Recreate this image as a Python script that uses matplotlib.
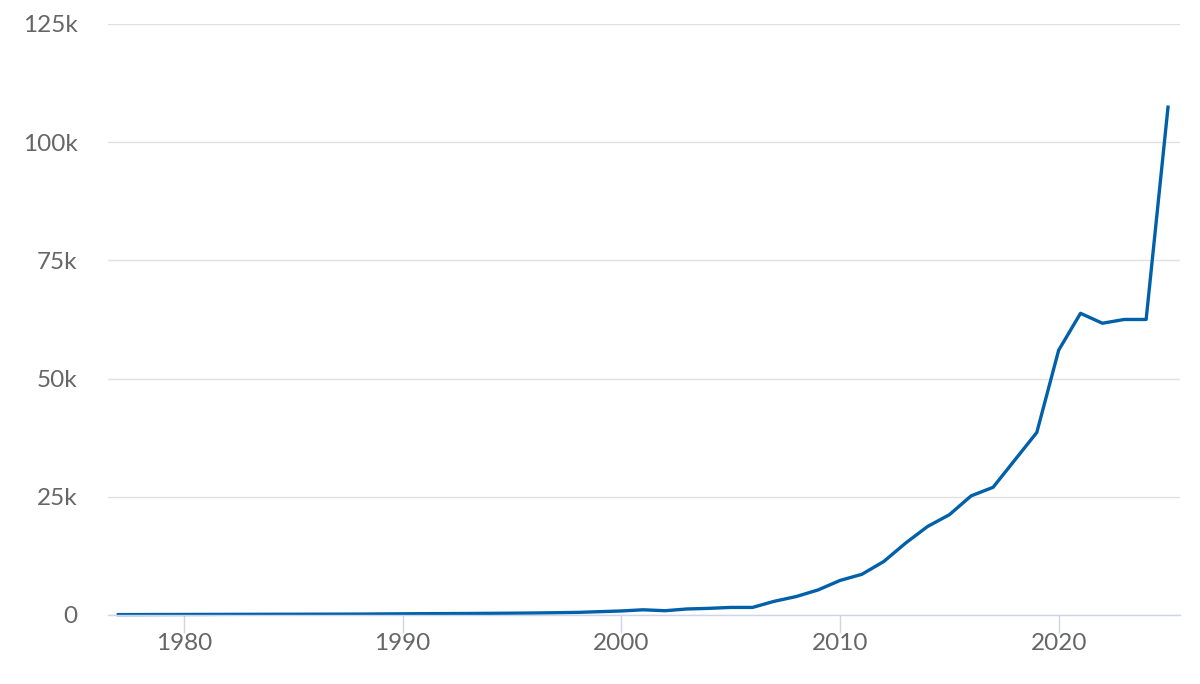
import matplotlib
matplotlib.use('Agg')
import matplotlib.pyplot as plt
from matplotlib.ticker import FuncFormatter

plt.rcParams['font.family'] = ['Lato', 'DejaVu Sans']

# yearly values
years = list(range(1977, 2026))
values = [80, 90, 100, 110, 120, 130, 140, 150, 160, 170, 180, 190, 220, 250, 280, 300, 320, 350, 380, 420, 480, 550, 700,
          850, 1100, 900, 1270, 1400, 1600, 1600, 2900, 3900, 5300,
          7300, 8600, 11300, 15200, 18700, 21200, 25200, 27000, 32800, 38600,
          56000, 63800, 61700, 62500, 62500, 107400]

fig = plt.figure(figsize=(12, 6.84), dpi=100)
ax = fig.add_axes([0.09, 0.1009, 0.893, 0.8641])

ax.plot(years, values, color='#0061aa', linewidth=2.4, solid_joinstyle='round', clip_on=False)

ax.set_xlim(1976.53, 2025.53)
ax.set_ylim(0, 125000)
ax.set_xticks([1980, 1990, 2000, 2010, 2020])
ax.set_yticks([0, 25000, 50000, 75000, 100000, 125000])
ax.yaxis.set_major_formatter(FuncFormatter(lambda v, p: '0' if v == 0 else f'{int(v/1000)}k'))

ax.grid(axis='y', color='#e0e0e0', linewidth=1)
ax.set_axisbelow(True)
for s in ['top', 'right', 'left']:
    ax.spines[s].set_visible(False)
ax.spines['bottom'].set_color('#ccd6eb')
ax.spines['bottom'].set_linewidth(1)

ax.tick_params(axis='x', colors='#ccd6eb', length=13, width=1, labelcolor='#666666', labelsize=17.5, pad=0)
ax.tick_params(axis='y', length=0, labelcolor='#666666', labelsize=17.5, pad=22)

fig.savefig('out.png', dpi=100, facecolor='white')
